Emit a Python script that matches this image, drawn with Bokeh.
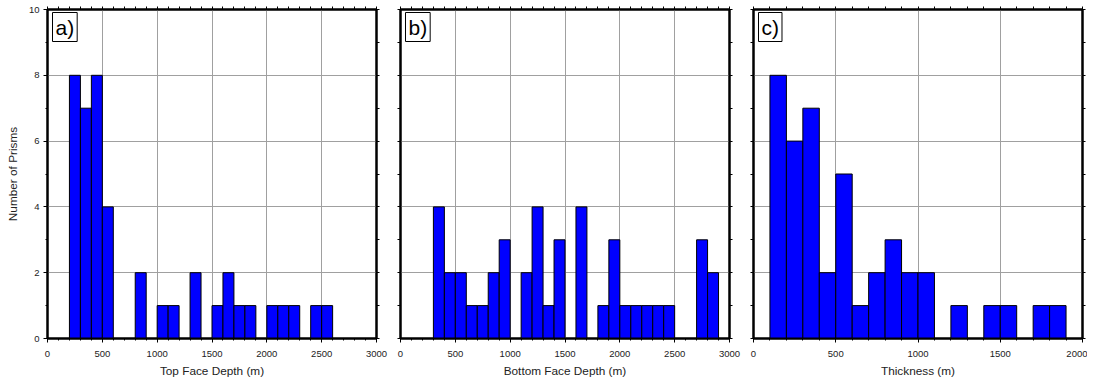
from bokeh.plotting import figure
from bokeh.layouts import row
from bokeh.models import (LinearAxis, SingleIntervalTicker, FixedTicker, Label, Range1d,
                          ColumnDataSource)
from bokeh.embed import file_html
from bokeh.resources import INLINE

# ---- data (bin width 100 m) ----
top_bin_start = [0, 100, 200, 300, 400, 500, 600, 700, 800, 900, 1000, 1100, 1200, 1300, 1400,
                 1500, 1600, 1700, 1800, 1900, 2000, 2100, 2200, 2300, 2400, 2500, 2600, 2700, 2800, 2900]
top_counts = [0, 0, 8, 7, 8, 4, 0, 0, 2, 0, 1, 1, 0, 2, 0,
              1, 2, 1, 1, 0, 1, 1, 1, 0, 1, 1, 0, 0, 0, 0]

bottom_bin_start = top_bin_start
bottom_counts = [0, 0, 0, 4, 2, 2, 1, 1, 2, 3, 0, 2, 4, 1, 3,
                 0, 4, 0, 1, 3, 1, 1, 1, 1, 1, 0, 0, 3, 2, 0]

thick_bin_start = [0, 100, 200, 300, 400, 500, 600, 700, 800, 900, 1000, 1100, 1200, 1300, 1400,
                   1500, 1600, 1700, 1800, 1900]
thick_counts = [0, 8, 6, 7, 2, 5, 1, 2, 3, 2, 2, 0, 1, 0, 1, 1, 0, 1, 1, 0]

panel_tags = ["a)", "b)", "c)"]
x_titles = ["Top Face Depth (m)", "Bottom Face Depth (m)", "Thickness (m)"]
x_max = [3000, 3000, 2000]
y_title = "Number of Prisms"
bin_width = 100

panels = [
    (panel_tags[0], x_titles[0], top_bin_start, top_counts, x_max[0]),
    (panel_tags[1], x_titles[1], bottom_bin_start, bottom_counts, x_max[1]),
    (panel_tags[2], x_titles[2], thick_bin_start, thick_counts, x_max[2]),
]

FONT = "Liberation Sans"
FRAME_W = 329
FRAME_H = 329


def base_style(ax):
    ax.axis_line_color = "black"
    ax.axis_line_width = 2
    ax.major_tick_line_color = "black"
    ax.minor_tick_line_color = "black"
    ax.major_tick_in = 0
    ax.minor_tick_in = 0


def label_axis(ax, ticker, title):
    ax.ticker = ticker
    base_style(ax)
    ax.major_tick_out = 4
    ax.minor_tick_out = 2
    ax.major_label_text_font = FONT
    ax.major_label_text_color = "#222222"
    ax.major_label_text_font_size = "9.5px"
    ax.major_label_standoff = 8
    ax.axis_label = title
    ax.axis_label_text_font = FONT
    ax.axis_label_text_font_style = "normal"
    ax.axis_label_text_font_size = "11.8px"
    ax.axis_label_text_color = "#222222"
    ax.axis_label_standoff = 4


def tick_only_axis(lo, hi, step):
    # ticks with no labels: all positions as minor ticks
    ax = LinearAxis(ticker=FixedTicker(ticks=[], minor_ticks=list(range(lo, hi + 1, step))))
    base_style(ax)
    ax.major_tick_out = 0
    ax.minor_tick_out = 3
    return ax


figs = []
for i, (tag, xlabel, starts, counts, xmax) in enumerate(panels):
    left_b = 47 if i == 0 else 12
    right_b = 12 if i < 2 else 5
    w = left_b + FRAME_W + right_b
    p = figure(width=w, height=382, output_backend="svg", toolbar_location=None,
               x_range=Range1d(0, xmax), y_range=Range1d(0, 10),
               x_axis_location=None, y_axis_location=None,
               min_border_left=left_b, min_border_right=right_b,
               min_border_top=9, min_border_bottom=44)
    p.outline_line_color = "black"
    p.outline_line_width = 2
    p.background_fill_color = "white"
    p.border_fill_color = "white"

    xt = SingleIntervalTicker(interval=500, num_minor_ticks=5)
    yt = SingleIntervalTicker(interval=2, num_minor_ticks=2)

    xb = LinearAxis()
    label_axis(xb, xt, xlabel)
    p.add_layout(xb, "below")
    p.add_layout(tick_only_axis(0, xmax, 100), "above")
    if i == 0:
        yl = LinearAxis()
        label_axis(yl, yt, y_title)
        yl.major_label_standoff = 4
        yl.axis_label_standoff = 6
        p.add_layout(yl, "left")
    else:
        p.add_layout(tick_only_axis(0, 10, 1), "left")
    p.add_layout(tick_only_axis(0, 10, 1), "right")

    p.xgrid.ticker = xt
    p.ygrid.ticker = yt
    p.grid.grid_line_color = "#a0a0a0"
    p.grid.grid_line_width = 1

    lefts = [s for s, c in zip(starts, counts) if c > 0]
    tops = [c for c in counts if c > 0]
    src = ColumnDataSource(dict(left=lefts, right=[l + bin_width for l in lefts],
                                top=tops, bottom=[0] * len(tops)))
    p.quad(left="left", right="right", top="top", bottom="bottom", source=src,
           fill_color="#0000ff", line_color="black", line_width=1)

    lab = Label(x=5, y=FRAME_H - 3, x_units="screen", y_units="screen", text=tag,
                text_font=FONT, text_font_size="21px", text_baseline="top",
                text_color="black",
                background_fill_color="white", border_line_color="black",
                border_line_width=1, padding=3)
    p.add_layout(lab)
    figs.append(p)

layout = row(*figs, spacing=0)
open("out.html", "w").write(file_html(layout, INLINE))
